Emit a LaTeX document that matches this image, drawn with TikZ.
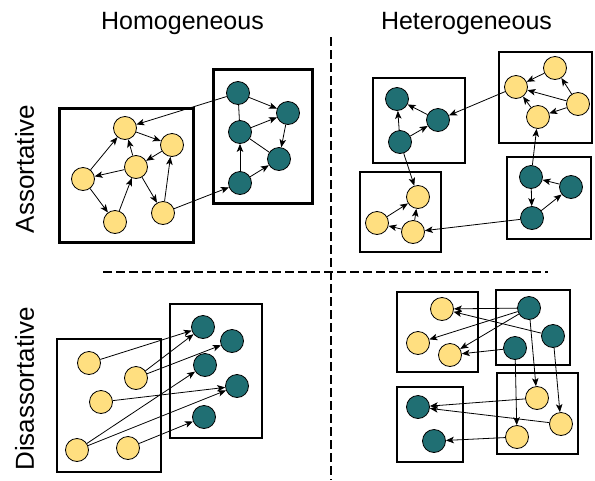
\documentclass[tikz,border=0pt]{standalone}
\usepackage{fontspec}
\setmainfont{Liberation Sans}
\usetikzlibrary{arrows.meta}
\definecolor{ylw}{RGB}{255,223,128}
\definecolor{tl}{RGB}{32,111,115}
\tikzset{
  yn/.style={circle,draw=black,line width=0.8pt,fill=ylw,minimum size=23pt,inner sep=0pt},
  tn/.style={circle,draw=black,line width=0.8pt,fill=tl,minimum size=23pt,inner sep=0pt},
  ar/.style={-{Stealth[length=8pt,width=6.5pt,inset=2pt]},line width=0.8pt},
  pl/.style={line width=0.8pt},
  bigbox/.style={line width=3pt},
  midbox/.style={line width=2.3pt},
  smallbox/.style={line width=1.8pt},
  sep/.style={line width=2.5pt,dash pattern=on 9pt off 4pt},
  toplbl/.style={font=\fontsize{25}{30}\selectfont,anchor=base,inner sep=0pt},
  sidelbl/.style={font=\fontsize{26}{30}\selectfont,anchor=base,rotate=90,inner sep=0pt}
}
\begin{document}
\begin{tikzpicture}[x=1pt,y=-1pt]
\useasboundingbox (0,0) rectangle (595,480);
\fill[white] (0,0) rectangle (595,480);
% labels
\node[toplbl] (lhom) at (182.5,29) {Homogeneous};
\node[toplbl] (lhet) at (466.5,29) {Heterogeneous};
\node[sidelbl] (lass) at (34,169) {Assortative};
\node[sidelbl] (ldis) at (34,389) {Disassortative};
% separators
\coordinate (vt) at (331,37); \coordinate (vb) at (331,480);
\coordinate (hl) at (103,272); \coordinate (hr) at (548,272);
\draw[sep] (vt) -- (vb);
\draw[sep] (hl) -- (hr);
% boxes
\draw[bigbox] (59,108) rectangle (193,242);
\draw[bigbox] (213,69) rectangle (312,203);
\draw[midbox] (373,78) rectangle (465,163);
\draw[midbox] (499,52) rectangle (592,143);
\draw[midbox] (360,172) rectangle (441,252);
\draw[midbox] (507,157) rectangle (591,239);
\draw[midbox] (57,339) rectangle (161,472);
\draw[midbox] (170,304) rectangle (262,438);
\draw[smallbox] (397,292) rectangle (478,372);
\draw[smallbox] (496,290) rectangle (570,365);
\draw[smallbox] (397,387) rectangle (463,462);
\draw[smallbox] (497,373) rectangle (578,454);
% top-left nodes
\node[yn] (Y1) at (125,128) {};
\node[yn] (Y2) at (172,145) {};
\node[yn] (Y3) at (136,167) {};
\node[yn] (Y4) at (83,179) {};
\node[yn] (Y5) at (115,222) {};
\node[yn] (Y6) at (163,213) {};
\node[tn] (T1) at (238,93) {};
\node[tn] (T2) at (288,113) {};
\node[tn] (T3) at (240,132) {};
\node[tn] (T4) at (279,159) {};
\node[tn] (T5) at (240,183) {};
% top-right nodes
\node[tn] (A1) at (397,99) {};
\node[tn] (A2) at (438,120) {};
\node[tn] (A3) at (400,142) {};
\node[yn] (B1) at (516,87) {};
\node[yn] (B2) at (555,68) {};
\node[yn] (B3) at (578,104) {};
\node[yn] (B4) at (538,117) {};
\node[yn] (C1) at (418,197) {};
\node[yn] (C2) at (377,223) {};
\node[yn] (C3) at (413,232) {};
\node[tn] (D1) at (531,177) {};
\node[tn] (D2) at (571,187) {};
\node[tn] (D3) at (532,218) {};
% bottom-left nodes
\node[yn] (P1) at (89,363) {};
\node[yn] (P2) at (136,378) {};
\node[yn] (P3) at (101,402) {};
\node[yn] (P4) at (77,450) {};
\node[yn] (P5) at (128,448) {};
\node[tn] (Q1) at (203,327) {};
\node[tn] (Q2) at (232,341) {};
\node[tn] (Q3) at (205,365) {};
\node[tn] (Q4) at (237,386) {};
\node[tn] (Q5) at (204,417) {};
% bottom-right nodes
\node[yn] (E1) at (442,309) {};
\node[yn] (E2) at (418,343) {};
\node[yn] (E3) at (450,355) {};
\node[tn] (F1) at (529,308) {};
\node[tn] (F2) at (553,336) {};
\node[tn] (F3) at (515,348) {};
\node[tn] (G1) at (418,407) {};
\node[tn] (G2) at (434,441) {};
\node[yn] (H1) at (537,398) {};
\node[yn] (H2) at (561,424) {};
\node[yn] (H3) at (517,437) {};
% top-left edges
\draw[ar] (T1) -- (Y1);
\draw[ar] (Y1) -- (Y2);
\draw[ar] (Y2) -- (Y3);
\draw[ar] (Y3) -- (Y1);
\draw[ar] (Y3) -- (Y4);
\draw[ar] (Y4) -- (Y1);
\draw[ar] (Y4) -- (Y5);
\draw[ar] (Y5) -- (Y3);
\draw[ar] (Y3) -- (Y6);
\draw[ar] (Y6) -- (Y2);
\draw[ar] (Y6) -- (T5);
\draw[ar] (T1) -- (T2);
\draw[pl] (T1) -- (T3);
\draw[ar] (T3) -- (T2);
\draw[pl] (T3) -- (T4);
\draw[ar] (T2) -- (T4);
\draw[ar] (T5) -- (T3);
\draw[ar] (T5) -- (T4);
% top-right edges
\draw[ar] (A2) -- (A1);
\draw[ar] (A3) -- (A1);
\draw[ar] (A3) -- (A2);
\draw[ar] (B2) -- (B1);
\draw[ar] (B3) -- (B1);
\draw[ar] (B3) -- (B2);
\draw[ar] (B3) -- (B4);
\draw[ar] (B4) -- (B1);
\draw[ar] (B1) -- (A2);
\draw[ar] (A3) -- (C1);
\draw[ar] (C2) -- (C1);
\draw[ar] (C3) -- (C1);
\draw[ar] (C3) -- (C2);
\draw[ar] (D1) -- (B4);
\draw[ar] (D2) -- (D1);
\draw[ar] (D1) -- (D3);
\draw[ar] (D3) -- (D2);
\draw[ar] (D3) -- (C3);
% bottom-left edges
\draw[ar] (P1) -- (Q1);
\draw[ar] (P2) -- (Q1);
\draw[ar] (P2) -- (Q2);
\draw[ar] (P4) -- (Q3);
\draw[ar] (P3) -- (Q4);
\draw[ar] (P4) -- (Q4);
\draw[ar] (P5) -- (Q5);
% bottom-right edges
\draw[ar] (F1) -- (E1);
\draw[ar] (F2) -- (E1);
\draw[ar] (F1) -- (E2);
\draw[ar] (F1) -- (E3);
\draw[ar] (F3) -- (E3);
\draw[ar] (F1) -- (H1);
\draw[ar] (F3) -- (H3);
\draw[ar] (F2) -- (H2);
\draw[ar] (H1) -- (G1);
\draw[ar] (H2) -- (G1);
\draw[ar] (H3) -- (G2);
\end{tikzpicture}
\end{document}
